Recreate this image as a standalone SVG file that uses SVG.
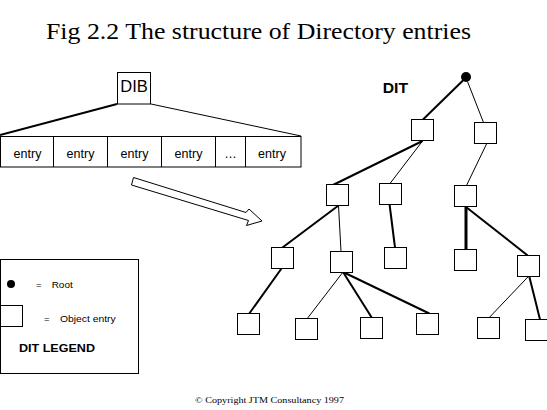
<svg xmlns="http://www.w3.org/2000/svg" width="547" height="410" viewBox="0 0 547 410">
<style>
.box{fill:#fff;stroke:#000;stroke-width:1}
.thin{stroke:#000;stroke-width:1;fill:none}
.thick{stroke:#000;stroke-width:2;fill:none}
.sans{font-family:"Liberation Sans",Arial,sans-serif;fill:#000}
.serif{font-family:"Liberation Serif","Times New Roman",serif;fill:#000}
</style>
<rect x="0" y="0" width="547" height="410" fill="#fff"/>
<text class="serif" x="46" y="39" font-size="24" textLength="425" lengthAdjust="spacingAndGlyphs">Fig 2.2 The structure of Directory entries</text>

<g id="dib">
<line class="thick" x1="117" y1="104" x2="0" y2="135"/>
<line class="thin" x1="151" y1="104" x2="301" y2="136"/>
<rect class="box" x="117.5" y="72.5" width="33" height="31.5"/>
<text class="sans" x="134" y="92.3" font-size="16.5" text-anchor="middle">DIB</text>
</g>

<g id="entries">
<rect class="box" x="0.5" y="136.5" width="300.5" height="30.5"/>
<line class="thin" x1="53.5" y1="136.5" x2="53.5" y2="167"/>
<line class="thin" x1="107.5" y1="136.5" x2="107.5" y2="167"/>
<line class="thin" x1="161.5" y1="136.5" x2="161.5" y2="167"/>
<line class="thin" x1="215.5" y1="136.5" x2="215.5" y2="167"/>
<line class="thin" x1="245.5" y1="136.5" x2="245.5" y2="167"/>
<g class="sans" font-size="12.5" text-anchor="middle">
<text x="27.5" y="157.5">entry</text>
<text x="80.5" y="157.5">entry</text>
<text x="134.5" y="157.5">entry</text>
<text x="188.5" y="157.5">entry</text>
<text x="230.5" y="157.5">…</text>
<text x="272" y="157.5">entry</text>
</g>
</g>

<g id="big-arrow">
<polygon class="thin" points="133.5,177.5 246,212.5 249,209 262,221 246.5,225.5 248.5,220.5 131.5,185"/>
</g>

<g id="legend">
<rect class="box" x="0.5" y="259.5" width="138" height="114"/>
<circle cx="11" cy="284" r="4" fill="#000"/>
<text class="sans" x="36" y="288" font-size="9.5">=</text>
<text class="sans" x="51.7" y="288" font-size="9.5" textLength="21" lengthAdjust="spacingAndGlyphs">Root</text>
<rect class="box" x="0.5" y="305.5" width="22" height="21"/>
<text class="sans" x="44" y="322" font-size="9.5">=</text>
<text class="sans" x="60" y="322" font-size="9.5" textLength="55.7" lengthAdjust="spacingAndGlyphs">Object entry</text>
<text class="sans" x="19" y="352.3" font-size="11" font-weight="bold" textLength="76" lengthAdjust="spacingAndGlyphs">DIT LEGEND</text>
</g>

<text class="sans" x="382.7" y="93.3" font-size="15.5" font-weight="bold" textLength="25.3" lengthAdjust="spacingAndGlyphs">DIT</text>

<g id="connectors">
<line class="thick" x1="465.5" y1="78" x2="422.5" y2="120"/>
<line class="thin" x1="467.5" y1="81.5" x2="483.5" y2="122.5"/>
<line class="thick" x1="422.5" y1="141" x2="333" y2="185"/>
<line class="thin" x1="422.5" y1="141" x2="390" y2="183.5"/>
<line class="thin" x1="486.5" y1="144" x2="466.5" y2="185.5"/>
<line class="thick" x1="338.5" y1="205.5" x2="282.5" y2="247.5"/>
<line class="thin" x1="338.5" y1="205.5" x2="341" y2="251.5"/>
<line class="thick" x1="389.5" y1="204" x2="395" y2="247.5"/>
<line stroke="#000" stroke-width="3" x1="466" y1="207" x2="466" y2="249.5"/>
<line class="thick" x1="466" y1="207" x2="527.7" y2="255.5"/>
<line class="thick" x1="281.5" y1="268.5" x2="249.3" y2="313.5"/>
<line class="thin" x1="343" y1="272" x2="307.3" y2="318.5"/>
<line class="thick" x1="343" y1="272" x2="371.7" y2="317.5"/>
<line class="thick" x1="343" y1="272" x2="429.3" y2="313.5"/>
<line class="thin" x1="528.3" y1="276.5" x2="489.3" y2="317.5"/>
<line class="thick" x1="529.3" y1="276.5" x2="540" y2="319.5"/>
</g>

<g id="root"><circle cx="466" cy="77" r="5" fill="#000"/></g>
<g id="nA"><rect class="box" x="411.5" y="119.5" width="22" height="21"/></g>
<g id="nB"><rect class="box" x="474.5" y="122.5" width="22" height="21"/></g>
<g id="nC"><rect class="box" x="326.5" y="184.5" width="22" height="21"/></g>
<g id="nD"><rect class="box" x="379.5" y="183.5" width="22" height="21"/></g>
<g id="nE"><rect class="box" x="454.5" y="185.5" width="22" height="21"/></g>
<g id="nF"><rect class="box" x="271.5" y="247.5" width="22" height="21"/></g>
<g id="nG"><rect class="box" x="330.5" y="251.5" width="22" height="21"/></g>
<g id="nH"><rect class="box" x="384.5" y="247.5" width="22" height="21"/></g>
<g id="nI"><rect class="box" x="454.5" y="249.5" width="22" height="21"/></g>
<g id="nJ"><rect class="box" x="517.5" y="255.5" width="22" height="21"/></g>
<g id="nK"><rect class="box" x="237.5" y="313.5" width="22" height="21"/></g>
<g id="nL"><rect class="box" x="295.5" y="318.5" width="22" height="21"/></g>
<g id="nM"><rect class="box" x="360.5" y="317.5" width="22" height="21"/></g>
<g id="nN"><rect class="box" x="416.5" y="313.5" width="22" height="21"/></g>
<g id="nO"><rect class="box" x="477.5" y="317.5" width="22" height="21"/></g>
<g id="nP"><rect class="box" x="525.5" y="319.5" width="22" height="21"/></g>

<text class="serif" x="195" y="402.7" font-size="9" textLength="149" lengthAdjust="spacingAndGlyphs">© Copyright JTM Consultancy 1997</text>
</svg>
